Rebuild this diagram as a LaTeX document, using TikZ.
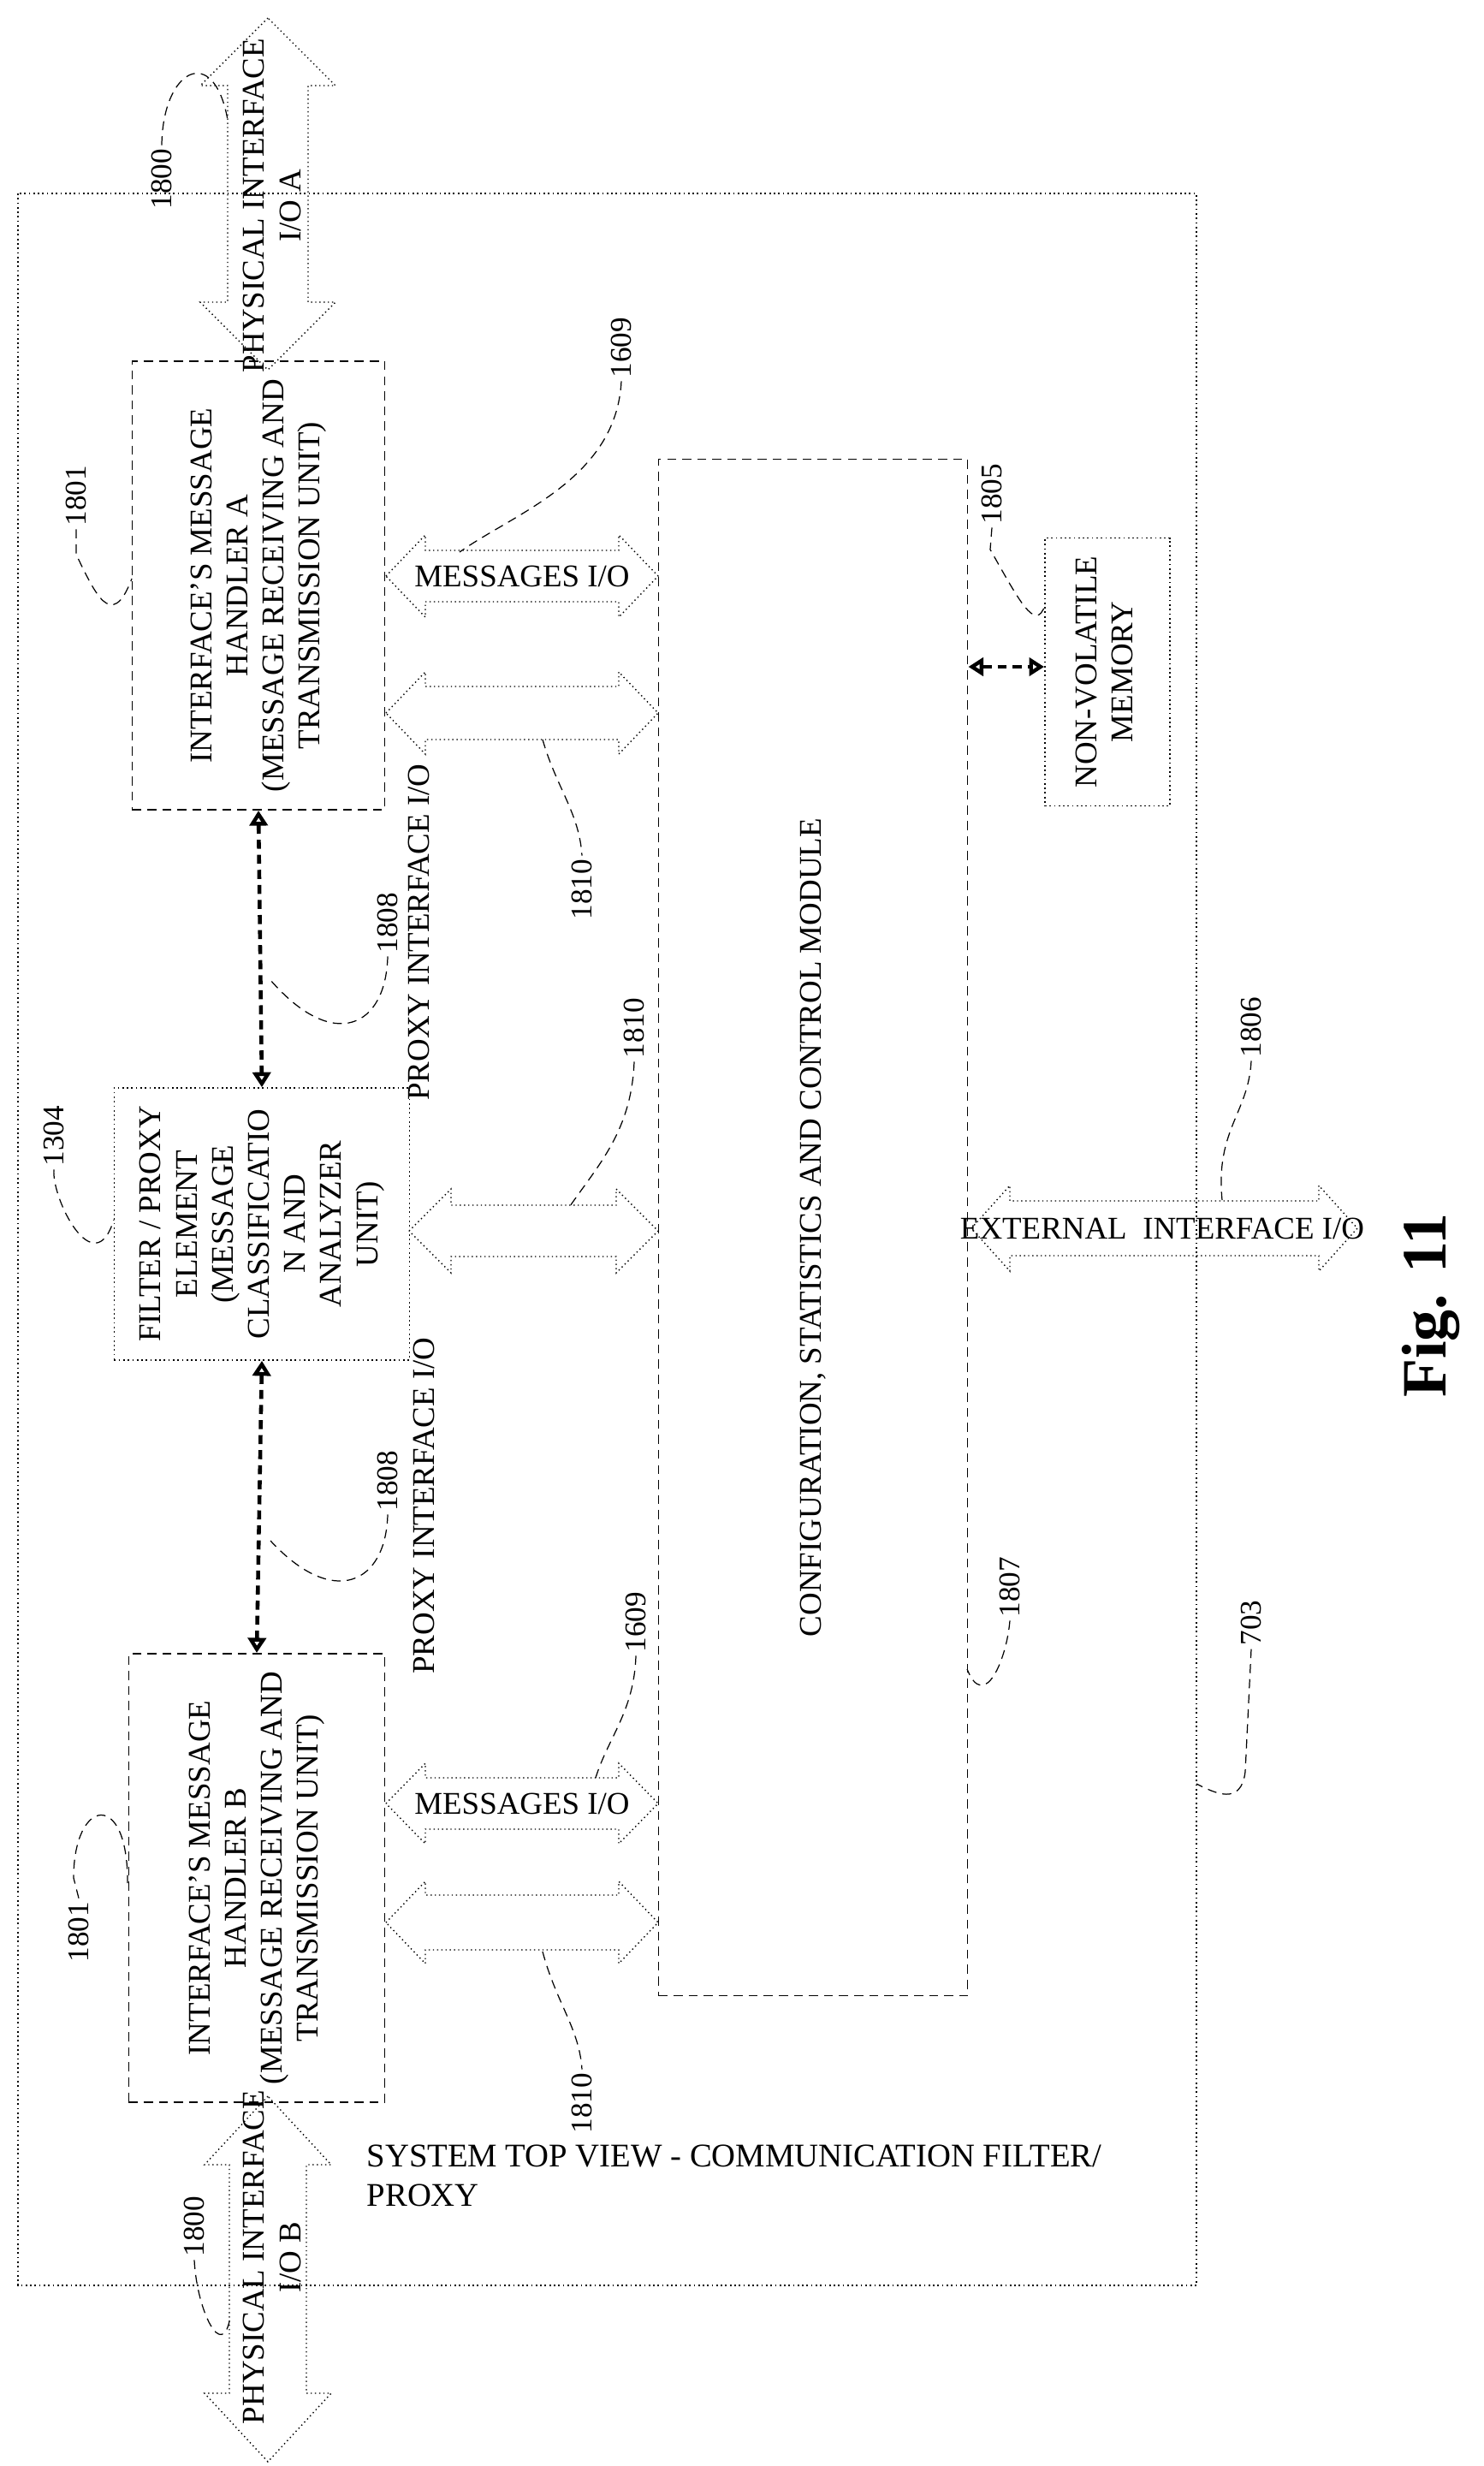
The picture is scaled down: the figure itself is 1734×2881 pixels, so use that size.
\documentclass[tikz,border=0pt]{standalone}
\usepackage{fontspec}
\setmainfont{Liberation Serif}
\usetikzlibrary{arrows.meta}
\tikzset{
  box/.style={draw, densely dashed, line width=0.5pt, inner sep=0pt, align=center, font=\fontsize{10.5}{12}\selectfont},
  fat/.style={draw, line width=0.4pt, densely dotted},
  lead/.style={draw, line width=0.35pt, densely dashed},
  lbl/.style={font=\fontsize{10}{11}\selectfont, rotate=90, inner sep=1pt},
  txt/.style={font=\fontsize{10.5}{12}\selectfont, align=center, inner sep=0pt},
  thinarrow/.style={draw, densely dashed, line width=1.3pt, {Triangle[open,length=5pt,width=6pt]}-{Triangle[open,length=5pt,width=6pt]}}
}
\newcommand\fatH[6]{\draw[fat] (#1,#3) -- (#1+#6,#3-#4) -- (#1+#6,#3-#5) -- (#2-#6,#3-#5) -- (#2-#6,#3-#4) -- (#2,#3) -- (#2-#6,#3+#4) -- (#2-#6,#3+#5) -- (#1+#6,#3+#5) -- (#1+#6,#3+#4) -- cycle;}
\newcommand\fatV[6]{\draw[fat] (#3,#1) -- (#3-#4,#1+#6) -- (#3-#5,#1+#6) -- (#3-#5,#2-#6) -- (#3-#4,#2-#6) -- (#3,#2) -- (#3+#4,#2-#6) -- (#3+#5,#2-#6) -- (#3+#5,#1+#6) -- (#3+#4,#1+#6) -- cycle;}
\begin{document}
\begin{tikzpicture}[x=0.01cm,y=-0.01cm]
\useasboundingbox (0,0) rectangle (1734,2881);
% outer frame
\draw[densely dotted, line width=0.5pt] (21,226) rectangle (1398,2670);
% boxes
\node[box, minimum width=2.95cm, minimum height=5.04cm] (ha) at (302,684) {\rotatebox{90}{\begin{tabular}{c}INTERFACE'S MESSAGE\\HANDLER A\\(MESSAGE RECEIVING AND\\TRANSMISSION UNIT)\end{tabular}}};
\node[box, minimum width=2.99cm, minimum height=5.10cm] (hb) at (300,2194) {\rotatebox{90}{\begin{tabular}{c}INTERFACE'S MESSAGE\\HANDLER B\\(MESSAGE RECEIVING AND\\TRANSMISSION UNIT)\end{tabular}}};
\node[box, densely dotted, minimum width=3.45cm, minimum height=3.01cm] (fp) at (306,1430) {\rotatebox{90}{\begin{tabular}{c}FILTER / PROXY\\ELEMENT\\(MESSAGE\\CLASSIFICATIO\\N AND\\ANALYZER\\UNIT)\end{tabular}}};
\node[box, minimum width=3.61cm, minimum height=17.94cm] (cfg) at (950,1434) {\rotatebox{90}{CONFIGURATION, STATISTICS AND CONTROL MODULE}};
\node[box, densely dotted, minimum width=1.46cm, minimum height=2.99cm] (nvm) at (1294,785) {\rotatebox{90}{\begin{tabular}{c}NON-VOLATILE\\MEMORY\end{tabular}}};
% fat arrows
\fatV{21}{432}{313}{79}{47}{79}
\node[txt, rotate=90] (pa) at (318,240) {PHYSICAL INTERFACE\\I/O A};
\fatV{2449}{2876}{313}{74}{45}{80}
\node[txt, rotate=90] (pb) at (318,2637) {PHYSICAL INTERFACE\\I/O B};
\fatH{451}{769}{673}{48}{30}{46}
\node[txt] (ma) at (610,673) {MESSAGES I/O};
\fatH{451}{769}{833}{48}{31}{46}
\fatH{478}{769}{1438}{49}{30}{49}
\fatH{451}{769}{2107}{47}{30}{46}
\node[txt] (mb) at (610,2107) {MESSAGES I/O};
\fatH{451}{769}{2246}{48}{32}{46}
\fatH{1135}{1586}{1435}{50}{32}{45}
\node[txt] (ext) at (1358,1435) {EXTERNAL\ \ INTERFACE I/O};
% thin arrows
\draw[thinarrow] (ha.south) -- (fp.north);
\draw[thinarrow] (fp.south) -- (hb.north);
\draw[thinarrow] (cfg.east |- 0,779) coordinate (c1) -- (nvm.west |- 0,779);
% proxy texts
\node[txt, rotate=90] (pi1) at (489,1089) {PROXY INTERFACE I/O};
\node[txt, rotate=90] (pi2) at (495,1759) {PROXY INTERFACE I/O};
% system text
\node[txt, anchor=north west, align=left, font=\fontsize{11}{13}\selectfont] (sys) at (428,2505) {SYSTEM\ TOP\ VIEW\ -\ COMMUNICATION FILTER/\\PROXY};
% Fig
\node[rotate=90, font=\fontsize{21}{24}\selectfont\bfseries] (fig) at (1672,1525) {Fig. 11};
% reference labels with leaders
\node[lbl] (l1800a) at (189,209) {1800};
\draw[lead] (l1800a.east) .. controls (190,80) and (250,50) .. (266,140);
\node[lbl] (l1801a) at (89,579) {1801};
\draw[lead] (l1801a.west) -- (89,648) .. controls (110,690) and (130,740) .. (154,676);
\node[lbl] (l1609a) at (726,406) {1609};
\draw[lead] (l1609a.west) .. controls (720,560) and (600,600) .. (537,645);
\node[lbl] (l1810a) at (680,1039) {1810};
\draw[lead] (634,864) .. controls (650,920) and (677,950) .. (l1810a.east);
\node[lbl] (l1808a) at (453,1078) {1808};
\draw[lead] (l1808a.west) .. controls (451,1200) and (390,1230) .. (316,1145);
\node[lbl] (l1304) at (63,1327) {1304};
\draw[lead] (l1304.west) .. controls (60,1400) and (110,1500) .. (133,1425);
\node[lbl] (l1810m) at (741,1201) {1810};
\draw[lead] (l1810m.west) .. controls (738,1320) and (700,1360) .. (666,1409);
\node[lbl] (l1808b) at (453,1730) {1808};
\draw[lead] (l1808b.west) .. controls (451,1850) and (390,1880) .. (316,1800);
\node[lbl] (l1609b) at (743,1895) {1609};
\draw[lead] (l1609b.west) .. controls (741,2000) and (710,2030) .. (695,2080);
\node[lbl] (l1801b) at (92,2257) {1801};
\draw[lead] (l1801b.east) -- (86,2194) .. controls (86,2100) and (150,2090) .. (149,2200);
\node[lbl] (l1810b) at (680,2457) {1810};
\draw[lead] (634,2280) .. controls (650,2340) and (677,2370) .. (l1810b.east);
\node[lbl] (l1800b) at (227,2601) {1800};
\draw[lead] (l1800b.west) .. controls (230,2700) and (260,2760) .. (269,2707);
\node[lbl] (l1805) at (1159,577) {1805};
\draw[lead] (l1805.west) -- (1157,642) .. controls (1190,700) and (1210,740) .. (1221,707);
\node[lbl] (l1806) at (1462,1200) {1806};
\draw[lead] (l1806.west) .. controls (1459,1300) and (1420,1320) .. (1428,1402);
\node[lbl] (l1807) at (1180,1854) {1807};
\draw[lead] (l1807.west) .. controls (1176,1940) and (1150,2000) .. (1130,1950);
\node[lbl] (l703) at (1462,1896) {703};
\draw[lead] (l703.west) -- (1455,2070) .. controls (1450,2110) and (1420,2095) .. (1398,2084);
\end{tikzpicture}
\end{document}
